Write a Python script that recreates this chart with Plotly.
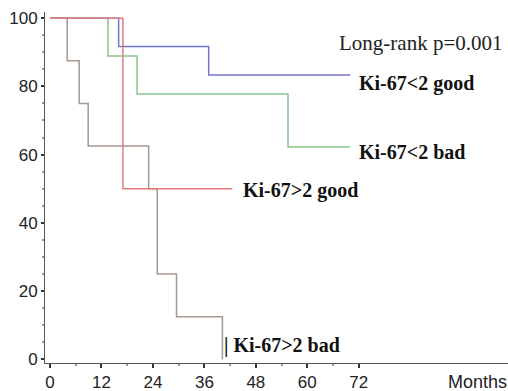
import plotly.graph_objects as go

# Kaplan-Meier step data (months, survival %)
blue_t = [0, 16, 37, 70]
blue_s = [100, 91.7, 83.3, 83.3]
green_t = [0, 13.5, 20.3, 55.5, 70]
green_s = [100, 88.9, 77.8, 62.2, 62.2]
red_t = [0, 17, 42.5]
red_s = [100, 50, 50]
brown_t = [0, 4, 6.8, 8.9, 23, 25, 29.5, 40.2]
brown_s = [100, 87.5, 75, 62.5, 50, 25, 12.5, 0]

x_ticks = [0, 12, 24, 36, 48, 60, 72]
y_ticks = [0, 20, 40, 60, 80, 100]

labels = ["Ki-67<2 good", "Ki-67<2 bad", "Ki-67>2 good", "| Ki-67>2 bad"]

L, T, W, H = 45, 12, 463, 351


def px2paper(px, py):
    return (px - L) / W, (T + H - py) / H


fig = go.Figure()
for t, s, c in [(brown_t, brown_s, "#a89890"), (green_t, green_s, "#8cc48c"),
                (blue_t, blue_s, "#7474cc"), (red_t, red_s, "#e07c7c")]:
    fig.add_trace(go.Scatter(x=t, y=s, mode="lines", line=dict(shape="hv", color=c, width=1.5),
                             showlegend=False, hoverinfo="skip"))

serif = "Liberation Serif"
lab_pos = [(357, 83), (357, 152), (241, 190), (222, 345)]
for txt, (px, py) in zip(labels, lab_pos):
    ax, ay = px2paper(px, py)
    fig.add_annotation(x=ax, y=ay, xref="paper", yref="paper",
                       text="<b>" + txt + "</b>", showarrow=False, xanchor="left", yanchor="middle",
                       font=dict(family=serif, size=20, color="#111"))
ax, ay = px2paper(504, 43)
fig.add_annotation(x=ax, y=ay, xref="paper", yref="paper", text="Long-rank p=0.001",
                   showarrow=False, xanchor="right", yanchor="middle",
                   font=dict(family=serif, size=21, color="#222"))
ax, ay = px2paper(509, 382)
fig.add_annotation(x=ax, y=ay, xref="paper", yref="paper", text="Months",
                   showarrow=False, xanchor="right", yanchor="middle",
                   font=dict(family="Liberation Sans", size=18, color="#222"))

tick_font = dict(family="Liberation Sans", size=17, color="#222")
fig.update_layout(
    width=508, height=391, margin=dict(l=L, r=0, t=T, b=28),
    paper_bgcolor="white", plot_bgcolor="white",
    xaxis=dict(range=[-1.17, 106.8], tickvals=x_ticks, ticks="outside", ticklen=4, tickwidth=2,
               tickcolor="#333", showline=True, linecolor="#555", linewidth=1, showgrid=False,
               zeroline=False, tickfont=tick_font, automargin=False,
               minor=dict(tickvals=[6, 18, 30, 42, 54, 66], ticks="outside", ticklen=2, tickcolor="#999")),
    yaxis=dict(range=[-1.08, 101.8], tickvals=y_ticks, ticks="outside", ticklen=3, tickwidth=2,
               tickcolor="#333", showline=True, linecolor="#555", linewidth=1, showgrid=False,
               zeroline=False, tickfont=tick_font, automargin=False,
               minor=dict(dtick=5, ticks="outside", ticklen=2, tickcolor="#999")),
)
fig.write_html("out.html", config={"displayModeBar": False},
               post_script="document.body.style.margin='0';")
